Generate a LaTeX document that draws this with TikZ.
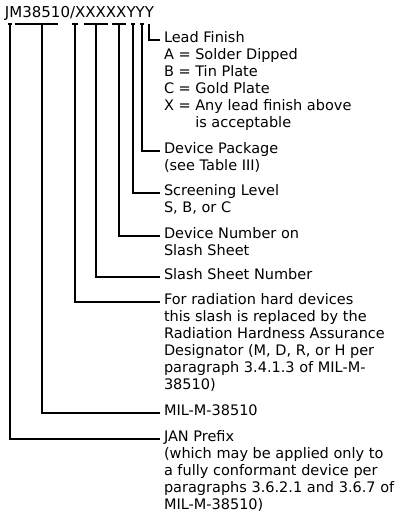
\documentclass[tikz,border=0pt]{standalone}
\usepackage{fontspec}
\setmainfont{DejaVu Sans}
\usetikzlibrary{positioning, calc}

\newcommand{\lbl}[1]{\begin{tabular}[t]{@{}l@{}}#1\end{tabular}}

\begin{document}
\begin{tikzpicture}[x=1pt, y=-1pt, line width=1.2pt,
    every node/.style={inner sep=0pt, outer xsep=4pt, anchor=mid west,
        font=\fontsize{14.5pt}{16.9pt}\selectfont}]
    \useasboundingbox (0,0) rectangle (401,519);

    \node[anchor=base west, outer sep=0pt, font=\fontsize{15pt}{18pt}\selectfont] (pn) at (5,18) {JM38510/XXXXXYYY};

    % label blocks
    \node (lead) at (160,40) {\lbl{Lead Finish\\A = Solder Dipped\\B = Tin Plate\\C = Gold Plate\\X = Any lead finish above\\\phantom{X = }is acceptable}};
    \node (pkg) at (160,151) {\lbl{Device Package\\(see Table III)}};
    \node (scr) at (160,193) {\lbl{Screening Level\\S, B, or C}};
    \node (dev) at (160,236) {\lbl{Device Number on\\Slash Sheet}};
    \node (ssn) at (160,277) {\lbl{Slash Sheet Number}};
    \node (rha) at (160,302) {\lbl{For radiation hard devices\\this slash is replaced by the\\Radiation Hardness Assurance\\Designator (M, D, R, or H per\\paragraph 3.4.1.3 of MIL-M-\\38510)}};
    \node (mil) at (160,413) {\lbl{MIL-M-38510}};
    \node (jan) at (160,439) {\lbl{JAN Prefix\\(which may be applied only to\\a fully conformant device per\\paragraphs 3.6.2.1 and 3.6.7 of\\MIL-M-38510)}};

    % brackets under the part number
    \foreach \l/\r/\m/\n in {8/12/10/jan, 15/58/42/mil, 72/78/75/rha, 84/108/96/ssn, 112/126/119/dev, 131/135/133/scr, 140/144/142/pkg} {
        \draw (\l,24) -- (\r,24);
        \coordinate (t\n) at (\m,24);
        \draw (t\n) |- (\n.mid west);
    }
    \coordinate (tlead) at (149,24);
    \draw (tlead) |- (lead.mid west);
\end{tikzpicture}
\end{document}
